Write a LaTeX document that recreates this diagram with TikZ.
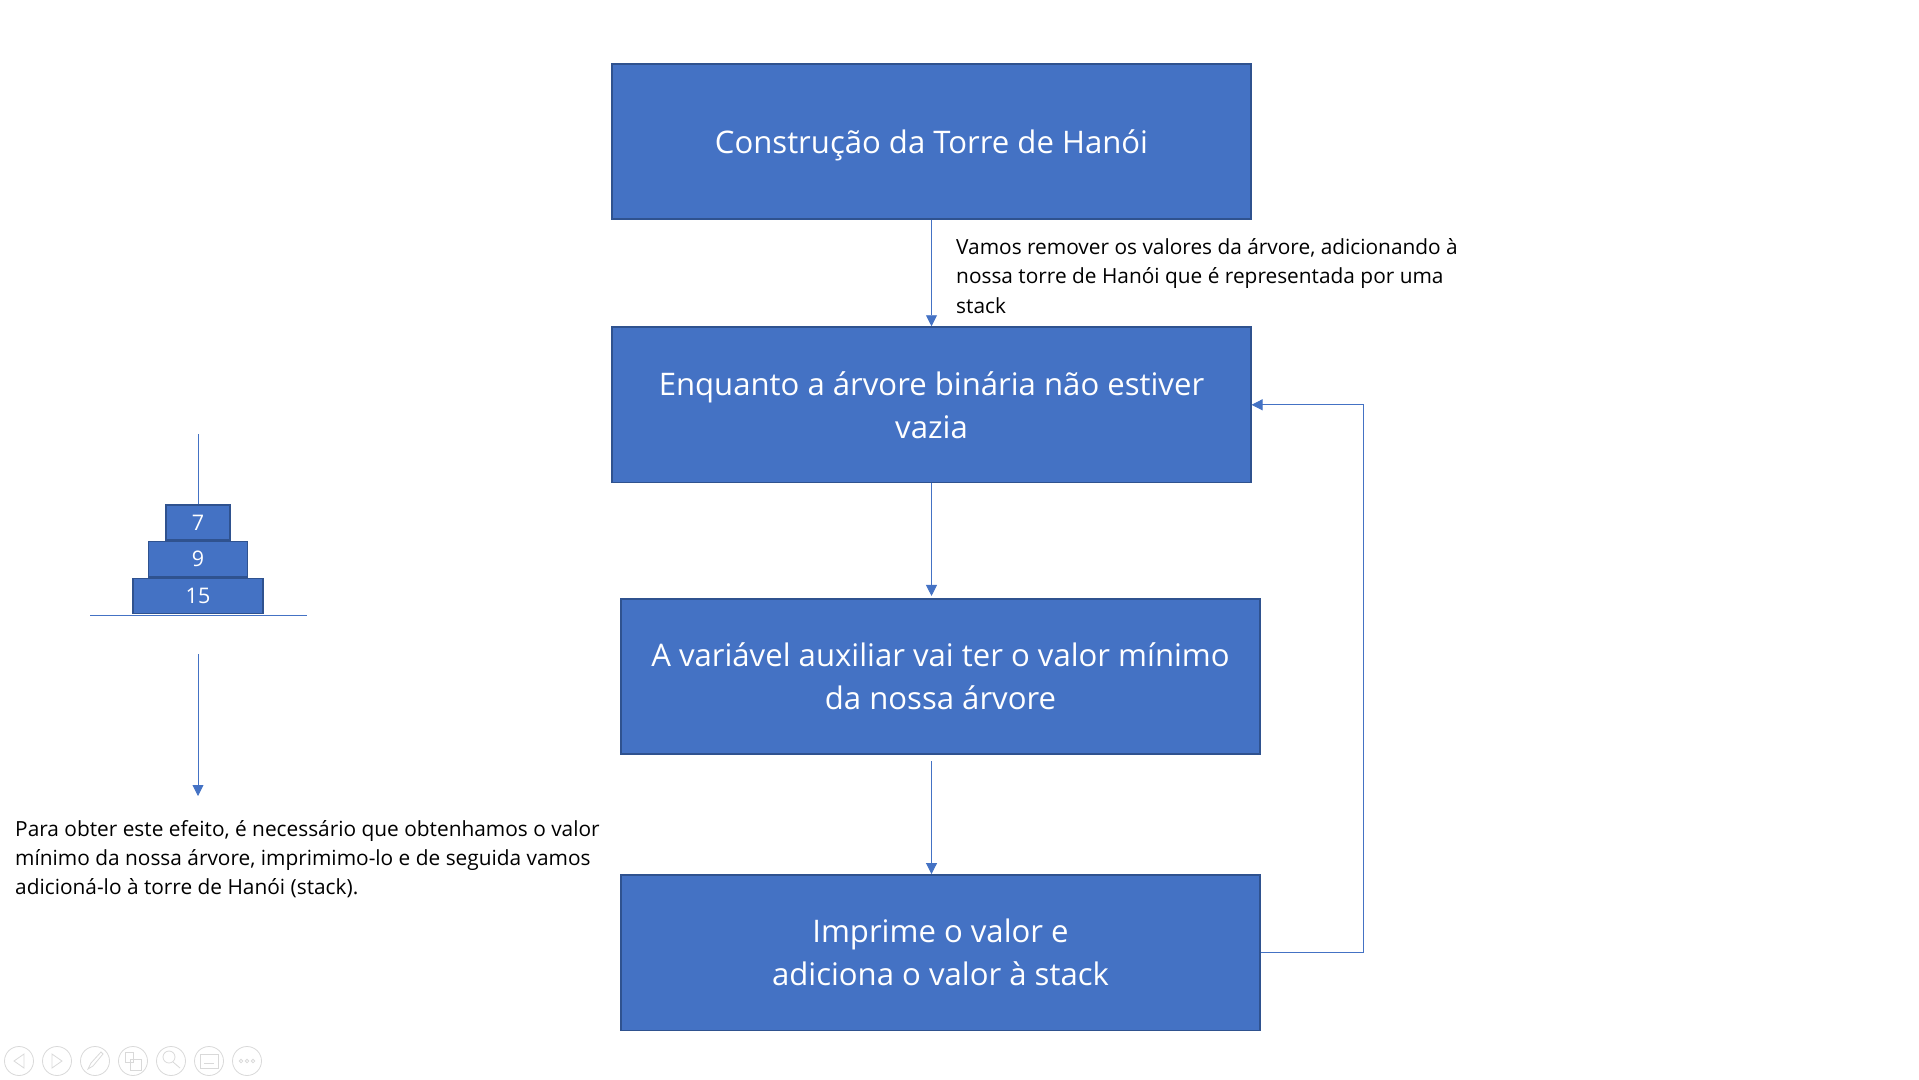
\documentclass[tikz,border=0pt]{standalone}
\usepackage{fontspec}
\setmainfont{Open Sans}
\usepackage{xcolor}
\usetikzlibrary{arrows.meta,positioning,calc}
\definecolor{boxfill}{HTML}{4472C4}
\definecolor{boxline}{HTML}{2F528F}
\definecolor{iconline}{HTML}{D9D9D9}

\begin{document}
\begin{tikzpicture}[x=1pt,y=-1pt,>={Triangle[width=11pt,length=11pt]}]
	\tikzstyle{flowbox}=[draw=boxline,fill=boxfill,line width=1.6pt,text=white,minimum width=638.5pt,minimum height=155.5pt,inner sep=0pt,align=center,font=\fontsize{31.1}{43}\selectfont]
	\tikzstyle{disc}=[draw=boxline,fill=boxfill,line width=1.6pt,text=white,minimum height=35.2pt,inner sep=0pt,font=\fontsize{21.5}{26}\selectfont]
	\tikzstyle{note}=[inner sep=0pt,align=left,text=black,font=\fontsize{20.85}{29.3}\selectfont]
	\tikzstyle{wire}=[draw=boxfill,line width=.9pt]
	\tikzstyle{icon}=[draw=iconline,line width=.8pt]
	\useasboundingbox (0,0) rectangle (1919,1079);

	\node[flowbox] (build) at (931.5,141.5) {\raisebox{-12.3pt}[0pt][0pt]{Construção da Torre de Hanói}};
	\node[flowbox] (loop) [below = 106.2pt of build] {Enquanto a árvore binária não estiver\\vazia};
	\node[flowbox] (min) at (940.5,676.5) {A variável auxiliar vai ter o valor mínimo\\da nossa árvore};
	\node[flowbox] (print) [below = 119pt of min] {Imprime o valor e\\adiciona o valor à stack};
	\node[note,anchor=north west] (remove) at (956,238.5) {Vamos remover os valores da árvore, adicionando à\\nossa torre de Hanói que é representada por uma\\stack};

	\node[disc,minimum width=130pt] (d15) at (198,596) {15};
	\node[disc,minimum width=99pt] (d9) [above = 0pt of d15] {9};
	\node[disc,minimum width=64pt] (d7) [above = 0pt of d9] {7};
	\coordinate (poletop) at (198,434);
	\coordinate (baseleft) at (90,615);
	\coordinate (baseright) at (307,615);
	\coordinate (downstart) at (198,654);
	\coordinate (downend) at (198,796);
	\coordinate (minout) at (931.5,761);
	\coordinate (bend) at (1363.5,0);
	\node[note,anchor=north west] (effect) at (15,820) {Para obter este efeito, é necessário que obtenhamos o valor\\mínimo da nossa árvore, imprimimo-lo e de seguida vamos\\adicioná-lo à torre de Hanói (stack).};

	\path[wire] (poletop) -- (d7);
	\path[wire] (baseleft) -- (baseright);
	\path[wire,->] (downstart) -- (downend);
	\path[wire,->] (build) -- (loop);
	\path[wire,->] (loop.south) -- ($(loop.south |- min.north)+(0,-2)$);
	\path[wire,->] (minout) -- (minout |- print.north);
	\path[wire,->] (print.east) -| (bend |- loop.east) -- (loop.east);

	% slide controls
	\foreach \i/\xx in {0/19,1/57,2/95,3/133,4/171,5/209,6/247}
		\draw[icon] (\xx,1061) circle (14.5);
	\draw[icon] (24,1054) -- (14,1061) -- (24,1068) -- cycle;
	\draw[icon] (52,1054) -- (62,1061) -- (52,1068) -- cycle;
	\draw[icon] (88,1069) -- (91,1063) -- (101,1052) -- (103,1054) -- (93,1066) -- cycle;
	\draw[icon] (125,1052) rectangle (133,1062);
	\draw[icon] (130,1059) rectangle (141,1070);
	\draw[icon] (169,1057) circle (6);
	\draw[icon] (173,1062) -- (180,1068);
	\draw[icon] (200,1054) rectangle (218,1068);
	\draw[icon] (204,1063) -- (214,1063);
	\foreach \xx in {241,247,253}
		\draw[icon] (\xx,1061) circle (1.8);
\end{tikzpicture}
\end{document}
